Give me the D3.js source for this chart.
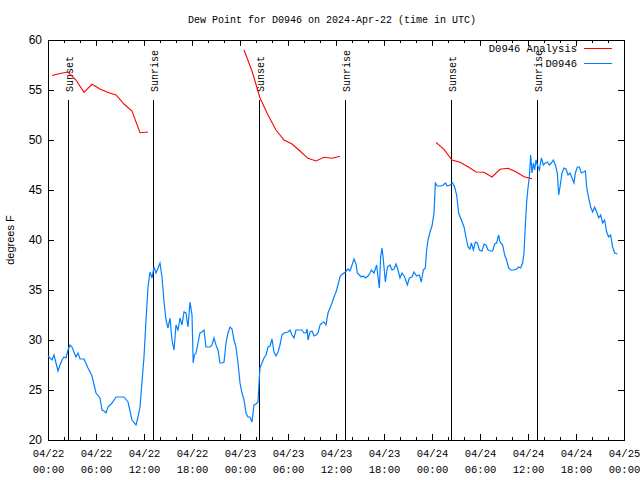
<!DOCTYPE html>
<html>
<head>
<meta charset="utf-8">
<script src="https://cdn.jsdelivr.net/npm/d3@7"></script>
<style>
  html, body { margin: 0; padding: 0; background: #fff; }
  svg { display: block; }
</style>
</head>
<body>
<svg id="chart" width="640" height="480"></svg>
<script>
// ---------------- DATA ----------------
const titleText = "Dew Point for D0946 on 2024-Apr-22 (time in UTC)";
const yLabelText = "degrees F";
const seriesNames = ["D0946 Analysis", "D0946"];
const yTicks = [20, 25, 30, 35, 40, 45, 50, 55, 60];
const xMajorHours = [0, 6, 12, 18, 24, 30, 36, 42, 48, 54, 60, 66, 72];

// Analysis (hourly, hours since 2024-04-22 00:00 UTC); null = gap
const analysisHours = [0.5,1.5,2.5,3.5,4.5,5.5,6.5,7.5,8.5,9.5,10.5,11.5,12.5, 18,
  24.5,25.5,26.5,27.5,28.5,29.5,30.5,31.5,32.5,33.5,34.5,35.5,36.5, 42,
  48.5,49.5,50.5,51.5,52.5,53.5,54.5,55.5,56.5,57.5,58.5,59.5,60.5];
const analysisValues = [56.45,56.65,56.8,56.0,54.77,55.57,55.1,54.75,54.5,53.6,52.9,50.73,50.8, null,
  59.0,56.9,54.2,52.5,51.0,50.0,49.6,48.9,48.17,47.9,48.27,48.17,48.37, null,
  49.77,49.07,48.0,47.77,47.33,46.8,46.77,46.3,47.07,47.17,46.83,46.33,46.13];

// Observations
const obsHours = [0,0.5,0.75,1,1.25,1.5,1.75,2,2.25,2.5,2.75,3,3.5,3.75,4,4.5,5,5.5,6,6.5,6.75,7,7.25,7.5,8,8.5,9,9.5,10,10.5,11,11.25,11.5,12,12.25,12.5,12.75,13,13.25,13.5,13.75,14,14.25,14.5,14.75,15,15.25,15.5,15.75,16,16.25,16.5,16.75,17,17.25,17.5,17.75,18,18.15,18.3,18.5,18.75,19,19.25,19.5,19.75,20,20.25,20.5,20.75,21,21.25,21.5,21.75,22,22.25,22.5,22.75,23,23.25,23.5,23.75,24,24.25,24.5,24.75,25,25.25,25.5,25.75,26,26.25,26.4,26.5,26.75,27,27.25,27.5,27.75,28,28.25,28.5,28.75,29,29.25,29.5,30,30.25,30.5,30.75,31,31.5,31.75,32,32.25,32.4,32.5,32.75,33,33.25,33.5,33.75,34,34.25,34.5,34.75,35,35.25,35.5,35.75,36,36.25,36.5,36.67,37,37.17,37.5,37.75,37.92,38.25,38.5,38.67,38.92,39.17,39.42,39.67,40,40.25,40.42,40.75,41.08,41.25,41.42,41.58,41.75,41.92,42.17,42.42,42.75,43,43.25,43.5,43.75,44,44.25,44.58,44.92,45.17,45.5,45.75,46.08,46.42,46.67,46.92,47.17,47.33,47.5,47.75,48,48.25,48.42,48.67,49.08,49.42,49.67,49.92,50.25,50.58,50.83,51.08,51.33,51.67,52,52.25,52.5,52.75,52.92,53.17,53.42,53.67,53.92,54.25,54.5,54.75,55,55.33,55.58,55.83,56.08,56.33,56.5,56.83,57.08,57.33,57.58,57.83,58.25,58.58,58.83,59.08,59.33,59.5,59.67,59.83,60,60.17,60.33,60.5,60.67,60.83,61,61.17,61.42,61.67,61.92,62.17,62.42,62.67,62.92,63.17,63.42,63.67,63.83,64,64.25,64.5,64.75,65,65.25,65.5,65.75,65.92,66.17,66.42,66.67,66.92,67.17,67.33,67.58,67.83,68.08,68.33,68.58,68.83,69.08,69.33,69.58,69.83,70.08,70.33,70.58,70.83,71.17];
const obsValues = [28.4,28.0,28.5,27.7,26.9,27.5,28.0,28.3,28.2,29.0,29.5,29.3,28.3,28.7,28.1,28.1,27.2,26.4,24.7,24.2,23.0,22.9,22.7,23.3,23.7,24.3,24.3,24.3,23.8,22.0,21.5,22.3,23.3,28.3,32.0,35.3,36.8,36.2,37.3,36.7,37.2,37.7,36.3,33.8,32.0,31.2,32.2,30.0,29.0,31.5,31.0,32.2,31.5,32.8,32.7,31.3,33.8,32.5,27.7,28.5,28.7,29.7,30.7,30.8,31.0,29.3,29.3,29.3,29.5,30.2,29.5,29.0,27.7,27.7,27.8,29.7,30.7,31.3,31.1,30.0,29.3,27.7,25.7,24.7,24.0,22.7,22.3,22.3,21.8,23.5,23.6,23.8,26.0,27.2,27.7,28.2,28.5,29.3,29.4,30.1,28.8,28.4,28.8,29.5,30.5,30.7,30.8,31.0,30.5,30.2,31.0,31.0,31.0,30.7,30.7,31.1,30.0,30.8,30.9,30.4,30.5,30.7,31.5,31.7,31.8,31.5,32.7,33.2,33.7,34.3,34.8,35.5,36.3,36.5,36.7,36.8,37.1,36.9,37.3,38.1,37.6,36.7,36.5,36.3,36.4,36.2,36.4,36.7,37.0,36.7,37.5,36.3,35.2,38.3,39.2,38.0,35.8,37.3,37.5,37.0,37.1,37.6,37.0,36.2,36.7,36.3,35.5,36.2,36.3,36.8,36.4,36.5,35.8,37.0,37.2,39.0,40.0,40.8,41.4,42.7,45.7,45.4,45.4,45.5,45.7,45.4,45.5,45.7,45.3,44.5,42.7,42.0,41.3,40.3,39.3,39.1,39.7,39.0,39.8,39.7,39.0,38.9,39.6,39.5,39.0,38.9,38.9,39.6,39.7,40.5,39.8,39.5,38.5,38.0,37.2,37.0,37.0,37.1,37.3,37.2,37.7,38.7,41.5,43.8,45.2,46.3,48.5,46.7,47.7,47.0,48.0,47.5,47.0,48.2,47.5,47.7,47.8,47.5,47.7,48.0,47.5,46.7,44.5,45.3,46.7,47.2,47.1,46.5,46.7,46.2,45.7,46.7,47.3,47.3,46.7,46.8,46.9,45.3,44.2,43.3,42.8,43.3,42.8,42.2,42.5,41.7,42.0,40.8,40.3,40.5,39.3,38.7,38.6];

// Sun events (hours since start)
const sunLabels = ["Sunset", "Sunrise", "Sunset", "Sunrise", "Sunset", "Sunrise"];
const sunHours = [2.54, 13.17, 26.42, 37.17, 50.4, 61.1];

// ---------------- CHART ----------------
const svg = d3.select("#chart");
const W = 640, H = 480;
const m = { left: 48, right: 16, top: 40, bottom: 40 };
const t0 = Date.UTC(2024, 3, 22);
const toDate = h => new Date(t0 + h * 3600000);

const x = d3.scaleUtc().domain([toDate(0), toDate(72)]).range([m.left, W - m.right]);
const y = d3.scaleLinear().domain([20, 60]).range([H - m.bottom, m.top]);

const mono = "'Liberation Mono', 'DejaVu Sans Mono', monospace";
const sans = "'Liberation Sans', Arial, sans-serif";
const blue = "#0080ff", red = "#ff0000";

// Title
svg.append("text").attr("x", 332).attr("y", 23).attr("text-anchor", "middle")
  .style("font-family", mono).style("font-size", "10px").text(titleText);

// Y label
svg.append("text").attr("transform", "translate(14,240) rotate(-90)")
  .attr("text-anchor", "middle").style("font-family", sans).style("font-size", "11px")
  .text(yLabelText);

// Axes
const gAx = svg.append("g").attr("shape-rendering", "crispEdges");
const xMajor = xMajorHours.map(toDate);
const xMinor = d3.range(0, 73, 2).filter(h => h % 6 !== 0).map(toDate);

const bottomAxis = gAx.append("g").attr("transform", `translate(0,${H - m.bottom})`)
  .call(d3.axisBottom(x).tickValues(xMajor).tickSizeInner(-6).tickSizeOuter(0).tickPadding(5).tickFormat(""));
gAx.append("g").attr("transform", `translate(0,${H - m.bottom})`)
  .call(d3.axisBottom(x).tickValues(xMinor).tickSizeInner(-3).tickSizeOuter(0).tickFormat(""));
gAx.append("g").attr("transform", `translate(0,${m.top})`)
  .call(d3.axisTop(x).tickValues(xMajor).tickSizeInner(-6).tickSizeOuter(0).tickFormat(""));
gAx.append("g").attr("transform", `translate(0,${m.top})`)
  .call(d3.axisTop(x).tickValues(xMinor).tickSizeInner(-3).tickSizeOuter(0).tickFormat(""));
gAx.append("g").attr("transform", `translate(${m.left},0)`)
  .call(d3.axisLeft(y).tickValues(yTicks).tickSizeInner(-6).tickSizeOuter(0).tickPadding(6).tickFormat(d3.format("d")));
gAx.append("g").attr("transform", `translate(${W - m.right},0)`)
  .call(d3.axisRight(y).tickValues(yTicks).tickSizeInner(-6).tickSizeOuter(0).tickFormat(""));

gAx.selectAll(".domain").remove();
gAx.selectAll(".tick line").attr("stroke", "#000");
gAx.selectAll(".tick text").style("font-family", sans).style("font-size", "12px").attr("fill", "#000");

// two-line x labels
const fmtD = d3.utcFormat("%m/%d"), fmtT = d3.utcFormat("%H:%M");
bottomAxis.selectAll(".tick").each(function(d) {
  const t = d3.select(this).append("text").attr("fill", "#000")
    .attr("text-anchor", "middle").style("font-family", mono).style("font-size", "10.5px");
  t.append("tspan").attr("x", 0).attr("y", 17).text(fmtD(d));
  t.append("tspan").attr("x", 0).attr("y", 33).text(fmtT(d));
});

// Frame
gAx.append("rect").attr("x", m.left + 0.5).attr("y", m.top + 0.5)
  .attr("width", W - m.left - m.right).attr("height", H - m.top - m.bottom)
  .attr("fill", "none").attr("stroke", "#000");

// Sun lines
const gSun = svg.append("g");
sunHours.forEach((h, i) => {
  const xv = Math.round(x(toDate(h))) + 0.5;
  gSun.append("line").attr("x1", xv).attr("x2", xv).attr("y1", 100).attr("y2", H - m.bottom)
    .attr("stroke", "#000").attr("shape-rendering", "crispEdges");
  gSun.append("text").attr("transform", `translate(${xv + 4},92) rotate(-90)`)
    .attr("text-anchor", "start").style("font-family", mono).style("font-size", "10px")
    .text(sunLabels[i]);
});

// Lines
const analysis = analysisHours.map((h, i) => ({ d: toDate(h), v: analysisValues[i] }));
const obs = obsHours.map((h, i) => ({ d: toDate(h), v: obsValues[i] }));
const line = d3.line().defined(p => p.v !== null).x(p => x(p.d)).y(p => y(p.v));

svg.append("path").datum(obs).attr("d", line).attr("fill", "none")
  .attr("stroke", blue).attr("stroke-width", 1.2);
svg.append("path").datum(analysis).attr("d", line).attr("fill", "none")
  .attr("stroke", red).attr("stroke-width", 1.1);

// Legend
const legend = svg.append("g");
const legColors = [red, blue];
seriesNames.forEach((n, i) => {
  const yy = 48 + i * 15;
  legend.append("text").attr("x", 577).attr("y", yy + 4).attr("text-anchor", "end")
    .style("font-family", mono).style("font-size", "10.5px").text(n);
  legend.append("line").attr("x1", 584).attr("x2", 612).attr("y1", yy + 0.5).attr("y2", yy + 0.5)
    .attr("stroke", legColors[i]).attr("shape-rendering", "crispEdges");
});
</script>
</body>
</html>
